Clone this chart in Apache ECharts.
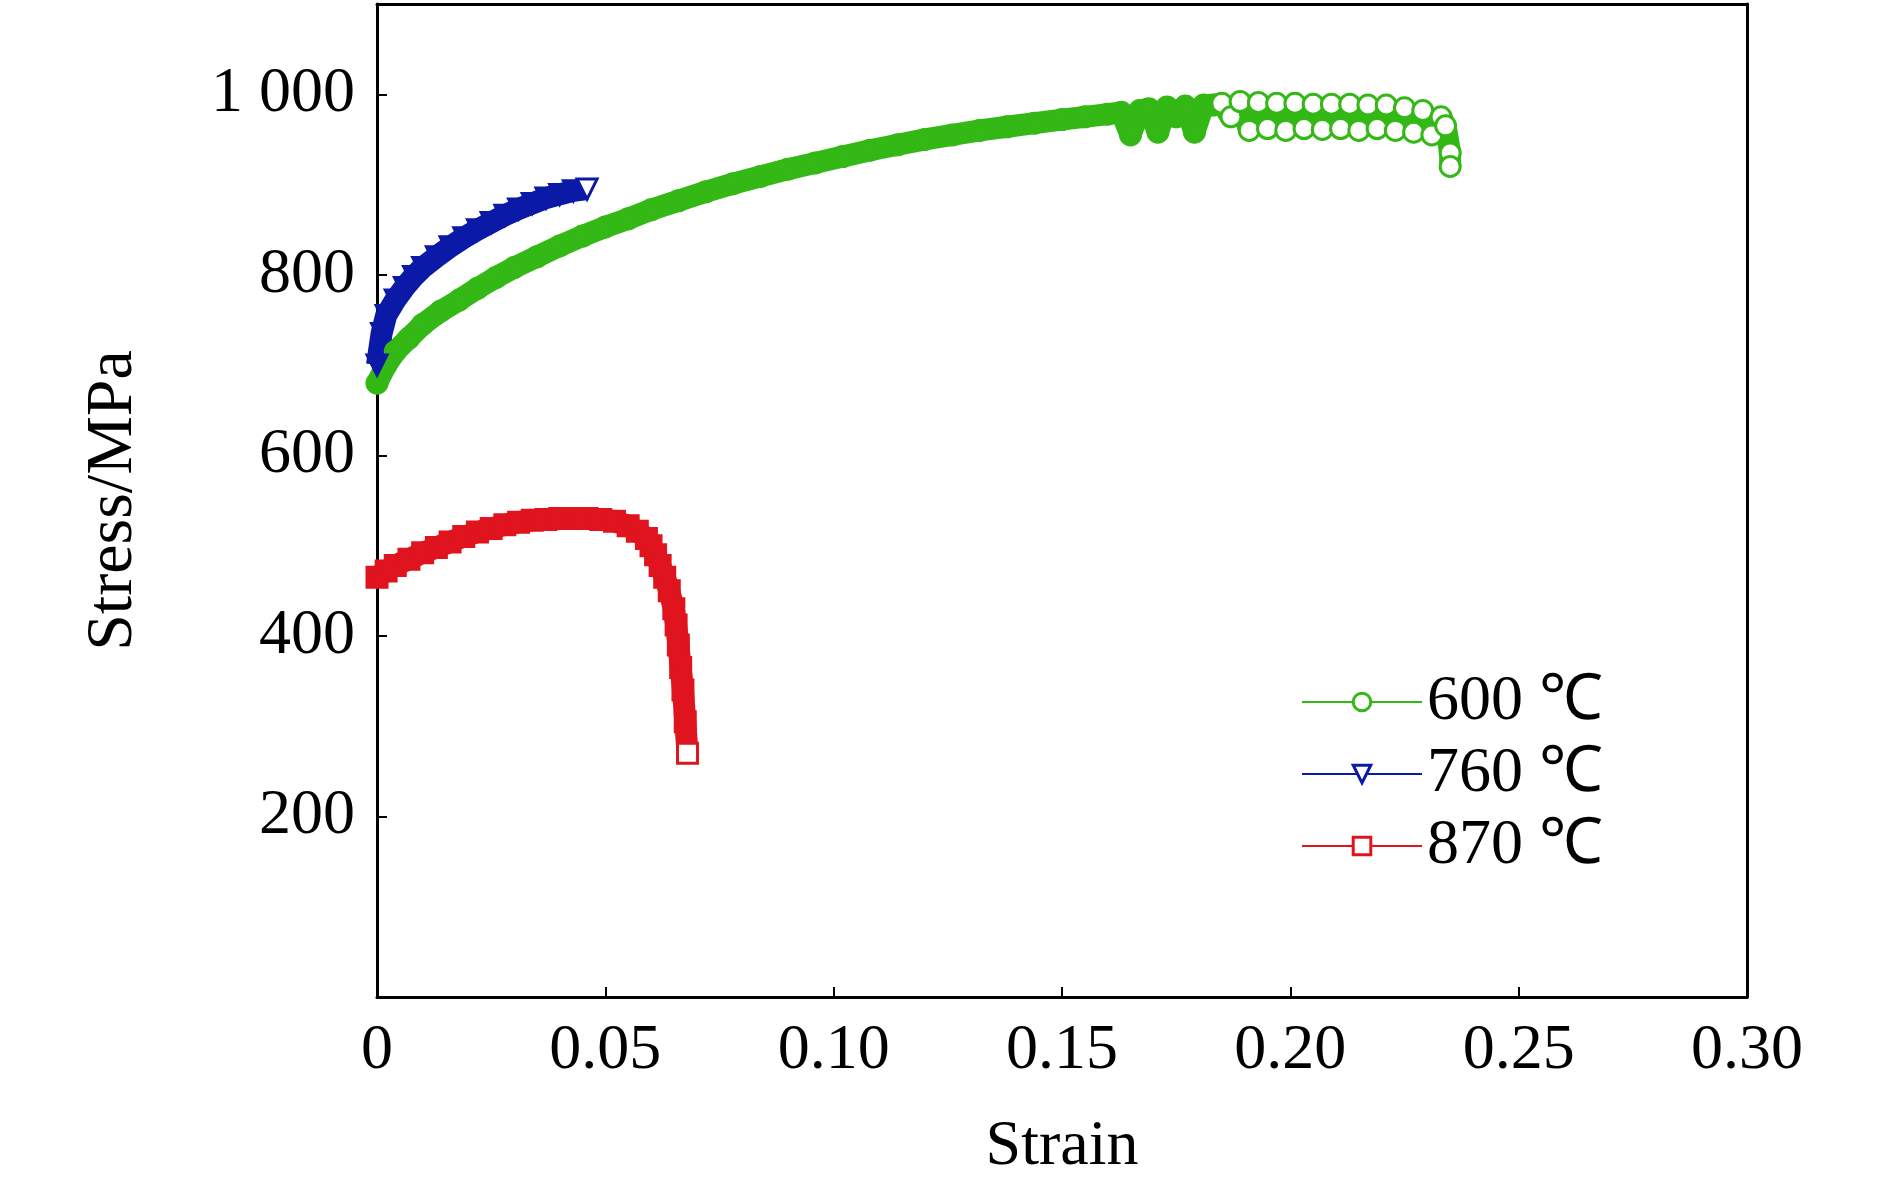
<!DOCTYPE html>
<html><head><meta charset="utf-8">
<script src="https://cdn.jsdelivr.net/npm/echarts@6/dist/echarts.min.js"></script>
<style>html,body{margin:0;padding:0;background:#fff}#c{width:1890px;height:1186px}</style>
</head><body><div id="c"></div>
<script>
const xTicks = [0,0.05,0.10,0.15,0.20,0.25,0.30];
const yTicks = [200,400,600,800,1000];
const names = ['600 ℃','760 ℃','870 ℃'];
const s600x = [0,0.002,0.004,0.007,0.01,0.014,0.018,0.022,0.026,0.03,0.035,0.04,0.045,0.05,0.055,0.06,0.066,0.072,0.078,0.084,0.09,0.096,0.102,0.108,0.114,0.12,0.126,0.132,0.138,0.144,0.15,0.155,0.16,0.163,0.165,0.167,0.169,0.171,0.173,0.175,0.177,0.179,0.181,0.183,0.185,0.187,0.189,0.191,0.193,0.195,0.197,0.199,0.201,0.203,0.205,0.207,0.209,0.211,0.213,0.215,0.217,0.219,0.221,0.223,0.225,0.227,0.229,0.231,0.233,0.234,0.235,0.235];
const s600y = [680,700,715,730,745,760,772,785,797,808,820,832,843,853,862,872,882,892,901,909,917,924,931,938,944,950,955,960,964,968,972,975,978,980,955,982,984,958,986,975,987,958,988,988,990,975,992,960,991,962,990,960,990,962,989,961,989,962,989,960,988,962,988,960,985,958,982,955,975,965,935,920];
const s760x = [0,0.001,0.002,0.004,0.006,0.008,0.01,0.013,0.016,0.019,0.022,0.025,0.028,0.031,0.034,0.037,0.04,0.043,0.046];
const s760y = [700,735,755,772,786,798,808,820,831,841,850,858,866,873,879,885,889,893,895];
const s870x = [0,0.002,0.004,0.007,0.01,0.013,0.016,0.019,0.022,0.025,0.028,0.031,0.034,0.037,0.04,0.043,0.046,0.049,0.052,0.055,0.057,0.059,0.06,0.061,0.062,0.063,0.064,0.065,0.0655,0.066,0.0665,0.067,0.0675,0.068];
const s870y = [465,472,478,485,492,498,504,510,515,519,523,526,528,529,530,530,530,529,527,522,516,508,500,490,478,465,450,430,412,390,365,340,305,270];
const colors = ['#33b815','#0b1aa6','#e0141e'];
const symbols = ['circle','triangle','rect'];
function pairs(x,y,c){return x.map((v,i)=>{
  const last = i===x.length-1 || (c===0 && x[i]>=0.185);
  return last?{value:[v,y[i]],itemStyle:{color:'#fff'}}:[v,y[i]];});}
const dataSets = [pairs(s600x,s600y,0),pairs(s760x,s760y,1),pairs(s870x,s870y,2)];
const font = 'Liberation Serif';
const chart = echarts.init(document.getElementById('c'));
const frame = {lineStyle:{color:'#000',width:3}};
chart.setOption({
  animation:false,
  grid:{left:377,right:143,top:4,bottom:189},
  xAxis:[{type:'value',min:0,max:0.3,interval:0.05,
    axisLine:frame,
    axisTick:{inside:true,length:10,lineStyle:{width:2,color:'#000'}},
    axisLabel:{color:'#000',fontFamily:font,fontSize:64,margin:22,
      formatter:v=>v===0?'0':v.toFixed(2)},
    splitLine:{show:false},
    name:'Strain',nameLocation:'middle',nameGap:118,
    nameTextStyle:{color:'#000',fontFamily:font,fontSize:64}},
    {type:'value',position:'top',min:0,max:0.3,axisLine:{show:true,onZero:false,lineStyle:{color:'#000',width:3}},
     axisTick:{show:false},axisLabel:{show:false},splitLine:{show:false}}],
  yAxis:[{type:'value',min:0,max:1100,interval:200,
    axisLine:frame,
    axisTick:{inside:true,length:10,lineStyle:{width:2,color:'#000'}},
    axisLabel:{color:'#000',fontFamily:font,fontSize:64,margin:22,
      formatter:v=>(v===0||v>1000)?'':(v===1000?'1 000':String(v))},
    splitLine:{show:false},
    name:'Stress/MPa',nameLocation:'middle',nameGap:230,
    nameTextStyle:{color:'#000',fontFamily:font,fontSize:66}},
    {type:'value',position:'right',min:0,max:1100,axisLine:{show:true,onZero:false,lineStyle:{color:'#000',width:3}},
     axisTick:{show:false},axisLabel:{show:false},splitLine:{show:false}}],
  legend:{orient:'vertical',left:1296,top:665,itemWidth:120,itemHeight:22,itemGap:8,
    textStyle:{color:'#000',fontFamily:font,fontSize:64},data:names.map((n,i)=>({name:n,itemStyle:{color:'#fff',borderColor:colors[i],borderWidth:3}}))},
  series:names.map((n,i)=>({
    name:n,type:'line',data:dataSets[i],symbol:symbols[i],symbolSize:20,
    symbolRotate:i===1?180:0,showSymbol:true,
    lineStyle:{color:colors[i],width:22},
    itemStyle:{color:colors[i],borderColor:colors[i],borderWidth:3},
    emphasis:{disabled:true}
  }))
});
</script></body></html>
